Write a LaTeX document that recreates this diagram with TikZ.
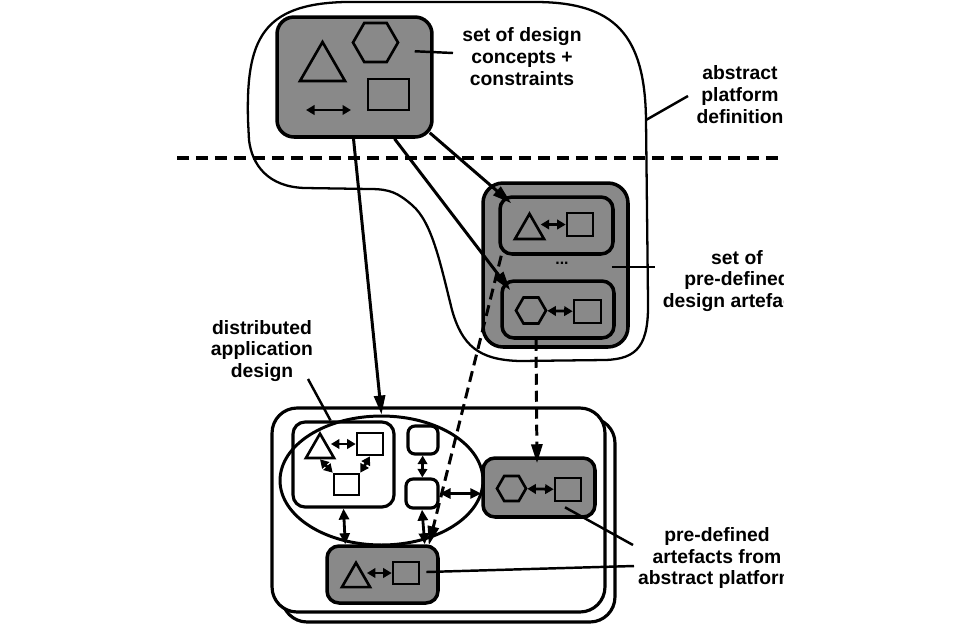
\documentclass[tikz,border=0pt]{standalone}
\usepackage{fontspec}
\setmainfont{Liberation Sans}
\usetikzlibrary{arrows.meta,positioning,calc,shapes.geometric}
\definecolor{boxgray}{RGB}{137,137,137}

\begin{document}
\begin{tikzpicture}[
    x=0.02cm, y=-0.02cm,
    node font=\bfseries,
    grey box/.style={draw, fill=boxgray, line width=2pt, rounded corners=0.24cm, inner sep=0pt},
    white box/.style={draw, fill=white, line width=1.8pt, rounded corners=0.14cm, inner sep=0pt},
    tri/.style={draw, regular polygon, regular polygon sides=3, line width=1.5pt, inner sep=0pt},
    hexa/.style={draw, regular polygon, regular polygon sides=6, line width=1.5pt, inner sep=0pt},
    sq/.style={draw, rectangle, line width=1.5pt, inner sep=0pt},
    link/.style={-{Triangle[length=0.38cm, width=0.22cm]}, line width=1.7pt},
    dashed link/.style={link, dash pattern=on 0.22cm off 0.12cm},
    both/.style={{Triangle[length=0.22cm, width=0.2cm]}-{Triangle[length=0.22cm, width=0.2cm]}, line width=1.6pt},
    small both/.style={{Triangle[length=0.17cm, width=0.19cm]}-{Triangle[length=0.17cm, width=0.19cm]}, line width=1.6pt},
    leader/.style={line width=1.4pt},
    label text/.style={align=center, font=\fontsize{11}{12.5}\selectfont},
]

\useasboundingbox (0,0) rectangle (960,623);
\fill[white] (0,0) rectangle (960,623);

% === ABSTRACT PLATFORM DEFINITION (outline) ===
\draw[line width=1.3pt] (248,120)
    .. controls (246,40) and (262,4) .. (345,2) -- (535,2)
    .. controls (615,2) and (645,35) .. (646,120) -- (648,300)
    .. controls (649,345) and (638,359) .. (605,360) -- (520,361)
    .. controls (478,360) and (462,345) .. (452,310)
    .. controls (440,262) and (432,222) .. (412,205)
    .. controls (398,193) and (390,189) .. (370,189) -- (305,188)
    .. controls (268,187) and (252,165) .. (249,140) -- cycle;

% Separator
\coordinate (sepL) at (177,158);
\coordinate (sepR) at (783,158);
\draw[line width=2pt, dash pattern=on 0.24cm off 0.14cm] (sepL) -- (sepR);

% === TOP: design concepts ===
\node[grey box, minimum width=3.1cm, minimum height=2.4cm, rounded corners=0.34cm] (concepts) at (354.5,77) {};
\node[tri, minimum size=1.04cm] (cTri) at (322.5,68) {};
\node[hexa, minimum size=0.9cm] (cHex) at (375.5,42.5) {};
\node[sq, minimum width=0.82cm, minimum height=0.62cm] (cSq) at (388.5,94.5) {};
\coordinate (cArrL) at (306,110);
\coordinate (cArrR) at (351,110);
\draw[small both] (cArrL) -- (cArrR);

% === MIDDLE: pre-defined design artefacts ===
\node[grey box, minimum width=2.9cm, minimum height=3.28cm, rounded corners=0.4cm] (artefacts) at (555.5,265) {};
\node[grey box, minimum width=2.26cm, minimum height=1.14cm] (artOne) at (556.5,225.5) {};
\node[grey box, minimum width=2.24cm, minimum height=1.14cm] (artTwo) at (558,309.5) {};
\node[tri, minimum size=0.67cm] (aTri) at (529.5,230.6) {};
\node[sq, minimum width=0.52cm, minimum height=0.46cm] (aSqOne) at (580,224.5) {};
\node[hexa, minimum size=0.6cm] (aHex) at (531,310.5) {};
\node[sq, minimum width=0.54cm, minimum height=0.46cm] (aSqTwo) at (587.5,311.5) {};
\node[font=\small] (dots) at (562,263) {...};
\draw[small both] (aTri.east |- aSqOne.west) -- (aSqOne.west);
\draw[small both] (aHex) -- (aSqTwo);

% === BOTTOM: concrete platform ===
\node[white box, minimum width=6.66cm, minimum height=4.08cm, rounded corners=0.5cm] (backFrame) at (448.5,520) {};
\node[white box, minimum width=6.66cm, minimum height=4.08cm, rounded corners=0.5cm] (platform) at (438.5,510) {};

% distributed application design
\node[draw, ellipse, line width=1.7pt, minimum width=4.06cm, minimum height=2.58cm, inner sep=0pt] (dist) at (381.5,480.5) {};
\node[draw, line width=1.8pt, rounded corners=0.24cm, minimum width=2.02cm, minimum height=1.7cm, inner sep=0pt] (design) at (343.5,464.5) {};
\node[tri, minimum size=0.65cm] (dTri) at (320,449.9) {};
\node[sq, minimum width=0.52cm, minimum height=0.44cm] (dSqA) at (370,444) {};
\node[sq, minimum width=0.5cm, minimum height=0.42cm] (dSqB) at (346.5,484.5) {};
\draw[small both] (dTri.east |- dSqA.west) -- (dSqA.west);
\draw[small both] (dTri.south) -- (dSqB.north west);
\draw[small both] (dSqA.south) -- (dSqB.north east);

\node[white box, minimum width=0.6cm, minimum height=0.56cm] (nA) at (423,440) {};
\node[white box, minimum width=0.64cm, minimum height=0.58cm] (nB) at (422,493.5) {};

% pre-defined artefacts in use
\node[grey box, minimum width=2.24cm, minimum height=1.18cm] (linkedArt) at (539,487.5) {};
\node[hexa, minimum size=0.58cm] (rHex) at (511.5,488.5) {};
\node[sq, minimum width=0.52cm, minimum height=0.46cm] (rSq) at (568,489.5) {};
\draw[small both] (rHex) -- (rSq);

\node[grey box, minimum width=2.22cm, minimum height=1.14cm] (localArt) at (382.5,574.5) {};
\node[tri, minimum size=0.65cm] (bTri) at (356,579) {};
\node[sq, minimum width=0.52cm, minimum height=0.44cm] (bSq) at (406,573) {};
\draw[small both] (bTri.east |- bSq.west) -- (bSq.west);

% Links inside the platform
\draw[small both] (nA) -- (nB);
\draw[both] (nB.east) -- (nB.east -| linkedArt.west);
\draw[both] (design.south) -- ($(localArt.north west)+(20,0)$);
\draw[both] (nB.south) -- ($(localArt.north east)+(-15,0)$);

% === ARROWS ===
\draw[link] ($(concepts.south east)+(-4,-6)$) -- ($(artOne.north west)+(13,8)$);
\draw[link] ($(concepts.south)+(40,0)$) -- ($(artTwo.north west)+(10,11)$);
\draw[link] ($(concepts.south)+(-1,0)$) -- (dist.north);
\draw[dashed link] ($(artTwo.south)+(-22,0)$) -- ($(linkedArt.north)+(-2,7)$);
\draw[dashed link] ($(artOne.south west)+(3,0)$) -- ($(localArt.north east)+(-11,1)$);

% === LABELS ===
\coordinate (cTxt) at (453,53);
\coordinate (blobEdge) at (646,120);
\coordinate (apTxt) at (688,96);
\coordinate (artTxt) at (655,267);
\coordinate (daTxt) at (308,379);
\coordinate (linkTxtA) at (633,545);
\coordinate (linkTxtB) at (634,566);

\draw[leader] ($(concepts.north east)+(-19,36)$) -- (cTxt);
\draw[leader] (blobEdge) -- (apTxt);
\draw[leader] ($(artefacts.east)+(-18,2)$) -- (artTxt);
\draw[leader] (daTxt) -- ($(design.north)+(-13,0)$);
\draw[leader] ($(rSq.south)+(-3,5)$) -- (linkTxtA);
\draw[leader] ($(bSq.east)+(6,-1)$) -- (linkTxtB);

\begin{scope}
    \clip (0,0) rectangle (783,623);
    \node[label text] (conceptsLbl) at (522,57) {set of design\\concepts +\\constraints};
    \node[label text] (platformLbl) at (740,95) {abstract\\platform\\definition};
    \node[label text] (artefactsLbl) at (737,281) {set of\\pre-defined\\design artefacts};
    \node[label text] (distLbl) at (262,351) {distributed\\application\\design};
    \node[label text] (linkedLbl) at (717,558) {pre-defined\\artefacts from\\abstract platform};
\end{scope}

\end{tikzpicture}
\end{document}
